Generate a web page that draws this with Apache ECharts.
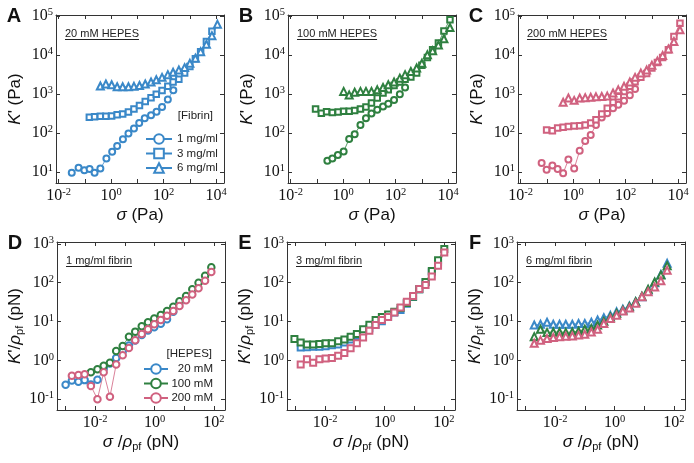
<!DOCTYPE html>
<html><head><meta charset="utf-8">
<script src="https://cdn.jsdelivr.net/npm/echarts@6/dist/echarts.min.js"></script>
<style>html,body{margin:0;padding:0;background:#fff}#c{width:694px;height:463px}</style>
</head><body><div id="c"></div>
<script>
// ===== Data: log10 values =====
// Panel A – 20 mM HEPES : log10 sigma (Pa) / log10 K' (Pa)
const A_c_lx = [-1.50,-1.24,-1.02,-0.82,-0.63,-0.41,-0.18,0.04,0.23,0.45,0.66,0.87,1.07,1.28,1.52,1.73,1.94,2.16,2.37];
const A_c_ly = [0.98,1.11,1.05,1.08,0.98,1.09,1.35,1.52,1.67,1.84,1.99,2.12,2.26,2.38,2.46,2.55,2.67,2.86,3.10];
const A_s_lx = [-0.83,-0.63,-0.41,-0.20,0.02,0.23,0.44,0.66,0.87,1.08,1.30,1.52,1.72,1.94,2.16,2.36,2.58,2.80,3.00,3.21,3.41,3.63,3.84];
const A_s_ly = [2.41,2.42,2.43,2.43,2.44,2.47,2.49,2.54,2.62,2.71,2.81,2.91,3.00,3.09,3.20,3.31,3.38,3.54,3.71,3.91,4.09,4.35,4.61];
const A_t_lx = [-0.41,-0.20,0.02,0.23,0.44,0.66,0.87,1.08,1.30,1.52,1.72,1.94,2.16,2.36,2.58,2.80,3.00,3.21,3.41,3.63,3.84,4.05];
const A_t_ly = [3.21,3.26,3.24,3.19,3.19,3.19,3.20,3.22,3.26,3.31,3.37,3.43,3.50,3.56,3.62,3.68,3.79,3.92,4.09,4.28,4.50,4.79];
// Panel B – 100 mM HEPES
const B_c_lx = [-0.60,-0.41,-0.20,0.02,0.23,0.44,0.66,0.87,1.08,1.30,1.52,1.72,1.94,2.16,2.36];
const B_c_ly = [1.29,1.35,1.44,1.53,1.85,1.97,2.21,2.38,2.50,2.60,2.68,2.75,2.85,3.00,3.17];
const B_s_lx = [-1.05,-0.83,-0.63,-0.41,-0.19,0.02,0.23,0.44,0.66,0.87,1.08,1.30,1.52,1.72,1.94,2.16,2.36,2.58,2.80,3.00,3.21,3.41,3.63,3.84,4.07];
const B_s_ly = [2.62,2.51,2.55,2.53,2.54,2.56,2.56,2.58,2.62,2.67,2.77,2.90,3.03,3.11,3.22,3.31,3.38,3.44,3.54,3.74,3.94,4.14,4.31,4.62,4.91];
const B_t_lx = [0.02,0.23,0.44,0.66,0.87,1.08,1.30,1.52,1.72,1.94,2.16,2.36,2.58,2.80,3.00,3.21,3.41,3.63,3.84,4.07];
const B_t_ly = [3.07,2.98,3.05,3.07,3.07,3.07,3.11,3.17,3.24,3.31,3.41,3.50,3.58,3.67,3.79,4.01,4.11,4.26,4.42,4.71];
// Panel C – 200 mM HEPES
const C_c_lx = [-1.20,-1.01,-0.79,-0.59,-0.38,-0.18,0.04,0.25,0.46,0.67,0.87,1.09,1.30,1.52,1.72,1.94,2.16,2.36];
const C_c_ly = [1.23,1.06,1.17,1.08,0.97,1.32,1.09,1.55,1.80,1.95,2.21,2.40,2.51,2.64,2.73,2.83,2.97,3.13];
const C_s_lx = [-1.01,-0.79,-0.59,-0.38,-0.18,0.04,0.25,0.46,0.67,0.87,1.09,1.30,1.52,1.72,1.94,2.16,2.36,2.58,2.80,3.00,3.21,3.41,3.63,3.84,4.07];
const C_s_ly = [2.08,2.06,2.13,2.15,2.17,2.18,2.19,2.21,2.26,2.34,2.49,2.64,2.79,2.93,3.07,3.20,3.32,3.43,3.53,3.67,3.81,3.94,4.14,4.48,4.82];
const C_t_lx = [-0.38,-0.18,0.04,0.25,0.46,0.67,0.87,1.09,1.30,1.52,1.72,1.94,2.16,2.36,2.58,2.80,3.00,3.21,3.41,3.63,3.84,4.07];
const C_t_ly = [2.79,2.90,2.84,2.90,2.91,2.92,2.93,2.94,2.95,3.03,3.11,3.20,3.31,3.43,3.54,3.62,3.74,3.85,3.99,4.16,4.35,4.65];
// Panel D – 1 mg/ml fibrin : log10 sigma/rho (pN) / log10 K'/rho (pN)
const D_20_lx  = [-2.99,-2.78,-2.56,-2.35,-2.14,-1.92,-1.71,-1.50,-1.29,-1.07,-0.86,-0.65,-0.43,-0.22,-0.01,0.21,0.42,0.63,0.84];
const D_20_ly  = [-0.63,-0.52,-0.55,-0.51,-0.62,-0.50,-0.22,-0.08,0.06,0.23,0.38,0.51,0.65,0.77,0.85,0.94,1.06,1.25,1.49];
const D_100_lx = [-2.14,-1.92,-1.71,-1.50,-1.29,-1.07,-0.86,-0.65,-0.43,-0.22,-0.01,0.21,0.42,0.63,0.84,1.06,1.27,1.48,1.70,1.91];
const D_100_ly = [-0.31,-0.23,-0.14,-0.06,0.24,0.37,0.61,0.74,0.88,0.98,1.08,1.17,1.27,1.38,1.52,1.66,1.83,2.00,2.18,2.40];
const D_200_lx = [-2.78,-2.56,-2.35,-2.14,-1.92,-1.71,-1.50,-1.29,-1.07,-0.86,-0.65,-0.43,-0.22,-0.01,0.21,0.42,0.63,0.84,1.06,1.27,1.48,1.70,1.91];
const D_200_ly = [-0.40,-0.38,-0.36,-0.66,-1.00,-0.31,-0.94,-0.11,0.13,0.32,0.52,0.68,0.80,0.93,1.04,1.15,1.27,1.40,1.55,1.70,1.86,2.05,2.28];
// Panel E – 3 mg/ml fibrin
const E_20_lx  = [-2.82,-2.61,-2.40,-2.19,-1.98,-1.77,-1.56,-1.35,-1.14,-0.93,-0.72,-0.51,-0.30,-0.09,0.12,0.33,0.54,0.75,0.96,1.17,1.38,1.59,1.80];
const E_20_ly  = [0.33,0.34,0.35,0.35,0.36,0.39,0.41,0.46,0.54,0.63,0.73,0.83,0.92,1.01,1.12,1.23,1.30,1.46,1.63,1.83,2.01,2.27,2.53];
const E_100_lx = [-3.03,-2.82,-2.61,-2.40,-2.19,-1.98,-1.77,-1.56,-1.35,-1.14,-0.93,-0.72,-0.51,-0.30,-0.09,0.12,0.33,0.54,0.75,0.96,1.17,1.38,1.59,1.80,2.01];
const E_100_ly = [0.55,0.46,0.41,0.41,0.42,0.44,0.44,0.49,0.54,0.61,0.68,0.80,0.92,1.04,1.12,1.18,1.25,1.35,1.48,1.64,1.83,2.02,2.30,2.58,2.87];
const E_200_lx = [-2.82,-2.61,-2.40,-2.19,-1.98,-1.77,-1.56,-1.35,-1.14,-0.93,-0.72,-0.51,-0.30,-0.09,0.12,0.33,0.54,0.75,0.96,1.17,1.38,1.59,1.80,2.01];
const E_200_ly = [-0.11,0.03,-0.06,0.03,0.05,0.06,0.12,0.19,0.31,0.44,0.59,0.76,0.91,1.04,1.12,1.23,1.36,1.51,1.66,1.84,1.94,2.16,2.44,2.78];
// Panel F – 6 mg/ml fibrin
const F_lx     = [-2.70,-2.49,-2.27,-2.06,-1.85,-1.64,-1.42,-1.21,-1.00,-0.78,-0.57,-0.36,-0.14,0.07,0.28,0.50,0.71,0.92,1.13,1.35,1.56,1.77];
const F_20_ly  = [0.91,0.93,0.98,0.93,0.93,0.93,0.93,0.95,0.95,0.98,1.04,1.10,1.16,1.25,1.32,1.40,1.51,1.64,1.81,2.00,2.21,2.50];
const F_100_ly = [0.61,0.80,0.72,0.73,0.73,0.72,0.73,0.75,0.80,0.82,0.91,1.01,1.12,1.21,1.29,1.38,1.51,1.65,1.83,2.02,2.20,2.44];
const F_200_ly = [0.44,0.52,0.56,0.59,0.61,0.62,0.63,0.65,0.67,0.73,0.80,0.95,1.08,1.16,1.27,1.35,1.47,1.64,1.77,1.89,2.05,2.32];

const fibrinNames = ['1 mg/ml','3 mg/ml','6 mg/ml'];
const hepesNames = ['20 mM','100 mM','200 mM'];
const panelLetters = ['A','B','C','D','E','F'];
const innerTitles = ['20 mM HEPES','100 mM HEPES','200 mM HEPES','1 mg/ml fibrin','3 mg/ml fibrin','6 mg/ml fibrin'];

// ===== Styling / layout =====
const BLUE = '#3a88c8', GREEN = '#2f8040', PINK = '#d0617f';
const SANS = 'Arial, "Liberation Sans", sans-serif';
const SERIF = '"Times New Roman", "Liberation Serif", serif';
const FRAME = '#333';
const W = 168, H = 168;
const panels = [
  {left:56,  top:15,  xr:[-2.1,4.3],   yr:[0.72,5.03]},
  {left:288, top:15,  xr:[-2.1,4.3],   yr:[0.72,5.03]},
  {left:518, top:15,  xr:[-2.1,4.3],   yr:[0.72,5.03]},
  {left:57,  top:242, xr:[-3.28,2.37], yr:[-1.28,3.05]},
  {left:287, top:242, xr:[-3.28,2.37], yr:[-1.28,3.05]},
  {left:517, top:242, xr:[-3.28,2.37], yr:[-1.28,3.05]}
];

function sup(v, step) {
  const e = Math.log10(v), r = Math.round(e);
  if (Math.abs(e - r) > 1e-6 || r % step !== 0) return '';
  return '{b|10}{s|' + (r < 0 ? '-' + (-r) : r) + '}';
}
const labRich = {
  b: {fontFamily: SERIF, fontSize: 16, lineHeight: 18, color: '#111'},
  s: {fontFamily: SERIF, fontSize: 10.5, lineHeight: 10, verticalAlign: 'top', color: '#111'}
};
const nameRich = {
  i: {fontFamily: SANS, fontSize: 17, fontStyle: 'italic', color: '#111', lineHeight: 20},
  n: {fontFamily: SANS, fontSize: 17, color: '#111', lineHeight: 20},
  sub: {fontFamily: SANS, fontSize: 11, color: '#111', lineHeight: 9, verticalAlign: 'bottom'}
};
const xNames = ['{i|σ}{n| (Pa)}', '{i|σ}{n| /}{i|ρ}{sub|pf}{n| (pN)}'];
const yNames = ['{i|K}{n|\' (Pa)}', '{i|K}{n|\'/}{i|ρ}{sub|pf}{n| (pN)}'];

const grid = [], xAxis = [], yAxis = [];
panels.forEach((p, g) => {
  const row = g < 3 ? 0 : 1;
  grid.push({left: p.left, top: p.top, width: W, height: H, containLabel: false});
  const common = {
    type: 'log', logBase: 10, gridIndex: g,
    axisLine: {show: true, lineStyle: {color: FRAME, width: 1}},
    axisTick: {show: true, inside: true, length: 4, lineStyle: {color: FRAME, width: 1}},
    splitLine: {show: false}, minorTick: {show: false}, minorSplitLine: {show: false}
  };
  xAxis.push(Object.assign({}, common, {
    position: 'bottom', min: Math.pow(10, p.xr[0]), max: Math.pow(10, p.xr[1]),
    axisLabel: {show: true, margin: 4, formatter: v => sup(v, 2), rich: labRich},
    name: xNames[row], nameLocation: 'middle', nameGap: 22,
    nameTextStyle: {rich: nameRich, fontSize: 17}
  }));
  xAxis.push(Object.assign({}, common, {
    position: 'top', min: Math.pow(10, p.xr[0]), max: Math.pow(10, p.xr[1]),
    axisLabel: {show: false}
  }));
  yAxis.push(Object.assign({}, common, {
    position: 'left', min: Math.pow(10, p.yr[0]), max: Math.pow(10, p.yr[1]),
    axisLabel: {show: true, margin: 3, formatter: v => sup(v, 1), rich: labRich},
    name: yNames[row], nameLocation: 'middle', nameGap: 31,
    nameTextStyle: {rich: nameRich, fontSize: 17}
  }));
  yAxis.push(Object.assign({}, common, {
    position: 'right', min: Math.pow(10, p.yr[0]), max: Math.pow(10, p.yr[1]),
    axisLabel: {show: false}
  }));
});

function mk(name, g, lx, ly, color, symbol, size) {
  return {
    type: 'line', name: name, xAxisIndex: 2 * g, yAxisIndex: 2 * g,
    data: lx.map((x, i) => [Math.pow(10, x), Math.pow(10, ly[i])]),
    symbol: symbol, symbolSize: size, showSymbol: true, showAllSymbol: true,
    lineStyle: {color: color, width: 0.8},
    itemStyle: {color: color, borderColor: color, borderWidth: 0.9},
    emphasis: {disabled: true}, animation: false
  };
}
const series = [
  mk('1 mg/ml', 0, A_c_lx, A_c_ly, BLUE, 'emptyCircle', 6),
  mk('3 mg/ml', 0, A_s_lx, A_s_ly, BLUE, 'emptyRect', 5.5),
  mk('6 mg/ml', 0, A_t_lx, A_t_ly, BLUE, 'emptyTriangle', 7),
  mk('1 mg/ml', 1, B_c_lx, B_c_ly, GREEN, 'emptyCircle', 6),
  mk('3 mg/ml', 1, B_s_lx, B_s_ly, GREEN, 'emptyRect', 5.5),
  mk('6 mg/ml', 1, B_t_lx, B_t_ly, GREEN, 'emptyTriangle', 7),
  mk('1 mg/ml', 2, C_c_lx, C_c_ly, PINK, 'emptyCircle', 6),
  mk('3 mg/ml', 2, C_s_lx, C_s_ly, PINK, 'emptyRect', 5.5),
  mk('6 mg/ml', 2, C_t_lx, C_t_ly, PINK, 'emptyTriangle', 7),
  mk('20 mM', 3, D_20_lx, D_20_ly, BLUE, 'emptyCircle', 6.5),
  mk('100 mM', 3, D_100_lx, D_100_ly, GREEN, 'emptyCircle', 6.5),
  mk('200 mM', 3, D_200_lx, D_200_ly, PINK, 'emptyCircle', 6.5),
  mk('20 mM', 4, E_20_lx, E_20_ly, BLUE, 'emptyRect', 6),
  mk('100 mM', 4, E_100_lx, E_100_ly, GREEN, 'emptyRect', 6),
  mk('200 mM', 4, E_200_lx, E_200_ly, PINK, 'emptyRect', 6),
  mk('20 mM', 5, F_lx, F_20_ly, BLUE, 'emptyTriangle', 7),
  mk('100 mM', 5, F_lx, F_100_ly, GREEN, 'emptyTriangle', 7),
  mk('200 mM', 5, F_lx, F_200_ly, PINK, 'emptyTriangle', 7)
];

// text width helper for underlines
const cvs = document.createElement('canvas').getContext('2d');
function tw(text, font) { cvs.font = font; return cvs.measureText(text).width; }

const graphic = [];
panels.forEach((p, g) => {
  graphic.push({type: 'text', x: p.left - 42, y: p.top + 1, style: {
    text: panelLetters[g], fontFamily: SANS, fontSize: 20, fontWeight: 'bold', fill: '#111',
    align: 'center', verticalAlign: 'middle'}});
  const tx = p.left + 9, ty = p.top + 19;
  const fs = 11;
  graphic.push({type: 'text', x: tx, y: ty, style: {
    text: innerTitles[g], fontFamily: SANS, fontSize: fs, fill: '#222', align: 'left', verticalAlign: 'middle'}});
  const w = tw(innerTitles[g], fs + 'px ' + SANS);
  graphic.push({type: 'line', shape: {x1: tx, y1: ty + 5.5, x2: tx + w, y2: ty + 5.5},
    style: {stroke: '#222', lineWidth: 1}});
});
graphic.push({type: 'text', x: 213, y: 116, style: {text: '[Fibrin]', fontFamily: SANS, fontSize: 11.5,
  fill: '#222', align: 'right', verticalAlign: 'middle'}});
graphic.push({type: 'text', x: 212, y: 353.5, style: {text: '[HEPES]', fontFamily: SANS, fontSize: 11.5,
  fill: '#222', align: 'right', verticalAlign: 'middle'}});

const legend = [
  {data: fibrinNames, orient: 'vertical', left: 145, top: 133, padding: 0, itemWidth: 26, itemHeight: 12,
   itemGap: 2.5, selectedMode: false, textStyle: {fontFamily: SANS, fontSize: 11.5, color: '#222'}},
  {data: hepesNames, orient: 'vertical', left: 143, top: 363, padding: 0, itemWidth: 24, itemHeight: 12,
   itemGap: 2.5, selectedMode: false,
   formatter: n => '{r|' + n + '}',
   textStyle: {fontFamily: SANS, fontSize: 11.5, color: '#222',
     rich: {r: {fontFamily: SANS, fontSize: 11.5, color: '#222', width: 40, align: 'right'}}}}
];

const chart = echarts.init(document.getElementById('c'), null, {renderer: 'canvas'});
chart.setOption({
  backgroundColor: '#fff', animation: false,
  grid, xAxis, yAxis, series, legend, graphic
});
</script></body></html>
